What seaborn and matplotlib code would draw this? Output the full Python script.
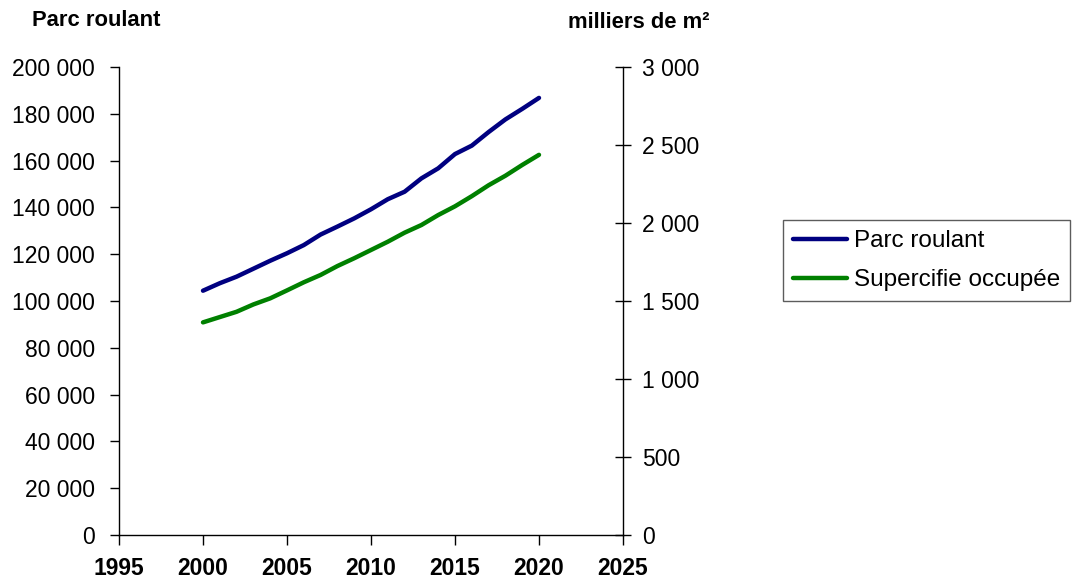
import matplotlib
matplotlib.use("Agg")
import matplotlib.pyplot as plt
import seaborn as sns
import pandas as pd
from matplotlib.ticker import FuncFormatter

sns.set_theme(style="white")
plt.rcParams["font.family"] = ["Liberation Sans", "DejaVu Sans"]
plt.rcParams["text.color"] = "black"
plt.rcParams["xtick.color"] = "black"
plt.rcParams["ytick.color"] = "black"

# Parc roulant (véhicules) et superficie occupée (milliers de m²), 2000-2020
annees = list(range(2000, 2021))
parc_roulant = [104400, 107600, 110400, 113800, 117200, 120400, 123900, 128400,
                131800, 135300, 139200, 143500, 146700, 152400, 156700, 162800,
                166400, 172200, 177600, 182100, 186800]
superficie = [1363, 1397, 1431, 1478, 1517, 1568, 1620, 1667, 1724, 1774,
              1827, 1880, 1938, 1987, 2051, 2107, 2172, 2242, 2303, 2372, 2437]

serie_gauche = "Parc roulant"
serie_droite = "Supercifie occupée"
titre_gauche = "Parc roulant"
titre_droite = "milliers de m²"

x_ticks = list(range(1995, 2026, 5))
y_ticks_gauche = list(range(0, 200001, 20000))
y_ticks_droite = list(range(0, 3001, 500))

bleu = "#000080"
vert = "#008000"

df = pd.DataFrame({"annee": annees, "parc": parc_roulant, "surface": superficie})

fig = plt.figure(figsize=(10.72, 5.85), dpi=100)
ax = fig.add_axes([119 / 1072, 1 - 535 / 585, (623 - 119) / 1072, (535 - 67) / 585])
ax2 = ax.twinx()

sns.lineplot(data=df, x="annee", y="parc", ax=ax, color=bleu, linewidth=3.2,
             label=serie_gauche, legend=False)
sns.lineplot(data=df, x="annee", y="surface", ax=ax2, color=vert, linewidth=3.2,
             label=serie_droite, legend=False)

ax.set_xlim(1995, 2025)
ax.set_ylim(0, 200000)
ax2.set_ylim(0, 3000)
ax.set_xticks(x_ticks)
ax.set_yticks(y_ticks_gauche)
ax2.set_yticks(y_ticks_droite)

espace = FuncFormatter(lambda v, p: f"{int(v):,}".replace(",", " "))
ax.yaxis.set_major_formatter(espace)
ax2.yaxis.set_major_formatter(espace)

ax.set_xlabel("")
ax.set_ylabel("")
ax2.set_ylabel("")

for a in (ax, ax2):
    a.grid(False)
    a.spines["top"].set_visible(False)
    for s in a.spines.values():
        s.set_color("black")
        s.set_linewidth(1.0)
ax.spines["right"].set_visible(False)
ax2.spines["left"].set_visible(False)
ax2.spines["bottom"].set_visible(False)

ax.tick_params(axis="y", which="major", direction="out", length=6.5, width=1,
               color="black", labelcolor="black", labelsize=16.5, pad=11, left=True)
ax.tick_params(axis="x", which="major", direction="out", length=7, width=1,
               color="black", labelcolor="black", labelsize=16.5, pad=9, bottom=True)
ax2.tick_params(axis="y", which="major", direction="inout", length=11, width=1,
                color="black", labelcolor="black", labelsize=16.5, pad=8, right=True)
for lab in ax.get_xticklabels():
    lab.set_fontweight("bold")

fig.text(32 / 1072, 1 - 20 / 585, titre_gauche, fontsize=15.8, fontweight="bold",
         ha="left", va="center", color="black")
fig.text(709 / 1072, 1 - 22 / 585, titre_droite, fontsize=15.8, fontweight="bold",
         ha="right", va="center", color="black")

h1, l1 = ax.get_legend_handles_labels()
h2, l2 = ax2.get_legend_handles_labels()
leg = fig.legend(h1 + h2, l1 + l2, loc="upper left",
                 bbox_to_anchor=(783 / 1072, 1 - 220 / 585), fontsize=17.5,
                 frameon=True, fancybox=False, shadow=False, handlelength=2.2,
                 handletextpad=0.3, borderpad=0.42, labelspacing=0.7,
                 borderaxespad=0, labelcolor="black")
leg.get_frame().set_edgecolor("#333333")
leg.get_frame().set_linewidth(1.0)

fig.savefig("out.png", dpi=100, facecolor="white")
